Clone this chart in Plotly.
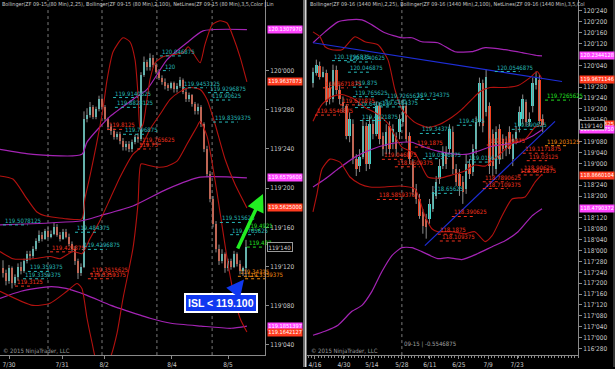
import plotly.graph_objects as go

# ---------------- LEFT PANEL: ZF 09-15 (80 Min) ----------------
L_OPEN = [119.370,119.353,119.330,119.369,119.321,119.343,119.375,119.362,119.394,119.416,
 119.407,119.432,119.457,119.476,119.464,119.489,119.470,119.480,119.502,119.476,
 119.464,119.486,119.470,119.448,119.432,119.394,119.353,119.375,119.845,119.860,
 119.883,119.851,119.876,119.908,119.883,119.845,119.819,119.806,119.787,119.797,
 119.775,119.756,119.765,119.749,119.772,119.787,119.781,119.987,120.029,120.010,
 120.041,120.019,119.997,119.978,119.965,119.952,119.946,119.959,119.940,119.952,
 119.971,119.933,119.908,119.921,119.892,119.870,119.883,119.829,119.749,119.670,
 119.591,119.511,119.432,119.394,119.416,119.369,119.394,119.375,119.416,119.384,
 119.362,119.369]
L_HIGH = [119.395,119.365,119.380,119.375,119.350,119.385,119.390,119.400,119.425,119.425,
 119.440,119.465,119.490,119.485,119.495,119.500,119.490,119.515,119.510,119.485,
 119.495,119.495,119.480,119.455,119.440,119.400,119.385,119.870,119.880,119.900,
 119.890,119.885,119.920,119.915,119.890,119.850,119.830,119.815,119.805,119.805,
 119.785,119.775,119.775,119.780,119.795,119.800,119.995,120.045,120.035,120.055,
 120.050,120.025,120.005,119.985,119.975,119.960,119.965,119.965,119.960,119.980,
 119.975,119.945,119.930,119.925,119.900,119.895,119.890,119.835,119.760,119.680,
 119.600,119.520,119.445,119.430,119.420,119.400,119.400,119.425,119.420,119.395,
 119.375,119.460]
L_LOW = [119.340,119.315,119.320,119.305,119.315,119.330,119.350,119.355,119.385,119.395,
 119.400,119.425,119.450,119.455,119.460,119.465,119.465,119.475,119.470,119.455,
 119.460,119.465,119.440,119.420,119.380,119.335,119.345,119.370,119.835,119.850,
 119.845,119.845,119.870,119.875,119.840,119.810,119.795,119.780,119.780,119.765,
 119.745,119.745,119.740,119.740,119.765,119.770,119.775,119.980,120.000,120.000,
 120.010,119.990,119.970,119.955,119.940,119.935,119.940,119.930,119.930,119.945,
 119.925,119.900,119.900,119.885,119.860,119.860,119.820,119.740,119.660,119.580,
 119.500,119.420,119.380,119.385,119.355,119.360,119.365,119.370,119.375,119.350,
 119.345,119.340]
L_CLOSE = [119.353,119.330,119.369,119.321,119.343,119.375,119.362,119.394,119.416,119.407,
 119.432,119.457,119.476,119.464,119.489,119.470,119.480,119.502,119.476,119.464,
 119.486,119.470,119.448,119.432,119.394,119.353,119.375,119.845,119.860,119.883,
 119.851,119.876,119.908,119.883,119.845,119.819,119.806,119.787,119.797,119.775,
 119.756,119.765,119.749,119.772,119.787,119.781,119.987,120.029,120.010,120.041,
 120.019,119.997,119.978,119.965,119.952,119.946,119.959,119.940,119.952,119.971,
 119.933,119.908,119.921,119.892,119.870,119.883,119.829,119.749,119.670,119.591,
 119.511,119.432,119.394,119.416,119.369,119.394,119.375,119.416,119.384,119.362,
 119.369,119.438]

L_BB25_UP_X = [-1,3.3,8,11.3,14,21.3,26.3,27.3,29,31.3,33.3,34.7,36.7,40,42.3,44,45,45.7,46.7,48,
               49,50.7,53.3,56.7,60,61.7,63.3,65.7,67.3,69.7,72.3,74.7,76.7,79,81.3]
L_BB25_UP = [119.664,119.654,119.591,119.549,119.537,119.527,119.527,119.591,119.664,119.772,
             119.876,119.971,120.060,120.105,120.092,120.035,119.924,119.813,119.829,119.908,
             119.971,120.025,120.044,120.051,120.057,120.076,120.057,120.025,120.083,120.146,
             120.159,120.152,120.108,120.044,119.964]
L_BB25_MID_X = [-1,3.3,10,15.7,19,23.3,26.3,29,32.3,35.7,39,43.3,46,49,52.3,55.7,59,62.3,65.7,68,70.7,74,77.3,81.3]
L_BB25_MID = [119.423,119.400,119.400,119.407,119.400,119.423,119.416,119.464,119.521,119.591,
              119.660,119.733,119.756,119.813,119.860,119.908,119.933,119.946,119.940,119.908,
              119.829,119.718,119.638,119.562]
L_BB25_LO_X = [-1,10,15.7,21.3,24.7,26.3,28,29.7,31.3,33.3,35.7,38,40,43.3,45,46,48,51.3,54.7,58,
               61.3,64.7,65.7,68,71.3,74.7,76.7,79,81.3]
L_BB25_LO = [119.296,119.251,119.258,119.296,119.321,119.305,119.210,119.131,119.067,119.051,
             119.083,119.162,119.273,119.432,119.575,119.702,119.699,119.692,119.695,119.711,
             119.765,119.822,119.838,119.791,119.613,119.400,119.296,119.210,119.166]
L_BB100_UP_X = [-1,10,26.3,28,35.7,43.3,48,54.7,61.3,66.7,81.3]
L_BB100_UP = [119.749,119.733,119.733,119.772,119.854,119.908,119.940,120.035,120.089,120.127,120.131]
L_BB100_MID_X = [-1,26.3,32.3,43.3,54.7,65.7,81.3]
L_BB100_MID = [119.508,119.521,119.537,119.568,119.622,119.660,119.658]
L_BB100_LO_X = [-1,6,16,21,28,36,46,49,56,66,76,81.3]
L_BB100_LO = [119.273,119.296,119.311,119.305,119.283,119.251,119.219,119.210,119.194,119.185,119.178,119.185]

L_X_TICKS = [2.0, 19.7, 33.7, 56.3, 75.0]
L_X_TEXT = ["7/30", "7/31", "8/2", "8/4", "8/5"]
L_SESSION_BREAKS = [15.0, 33.0, 51.3, 69.7]
L_Y_TICKS = [120.0, 119.875, 119.75, 119.625, 119.5, 119.375, 119.25, 119.125]
L_Y_TEXT = ["120'000", "119'280", "119'240", "119'200", "119'160", "119'120", "119'080", "119'040"]

L_LABELS_CYAN = [("120.046875", 52.3), ("120", 53.3), ("119.9140625", 36.7), ("119.8828125", 37.3),
                 ("119.796875", 40.0), ("119.9453125", 59.7), ("119.9296875", 68.3), ("119.90625", 69.0),
                 ("119.8359375", 70.0), ("119.484375", 24.0), ("119.4296875", 26.3), ("119.359375", 8.3),
                 ("119.3359375", 6.7), ("119.5078125", 0.0), ("119.515625", 72.3), ("119.4765625", 75.7)]
L_LABELS_RED = [("119.8125", 34.7), ("119.765625", 45.7), ("119.75", 44.7), ("119.421875", 15.7),
                ("119.3515625", 29.0), ("119.3359375", 28.3), ("119.3125", 4.0)]
L_LABELS_ORANGE = [("119.34375", 78.3), ("119.3359375", 80.7)]
L_LABELS_GREEN = [("119.437", 81.3), ("119.4921", 80.7)]
L_TAGS = [("120.1307970", "mag"), ("119.9637873", "red"), ("119.6579600", "mag"),
          ("119.5625000", "red"), ("119.1851397", "mag"), ("119.1642127", "red")]
L_LAST = (119.4375, "119'140")

# ---------------- RIGHT PANEL: ZF 09-16 (1440 Min) ----------------
R_OPEN = [119.928,120.042,120.122,119.997,120.042,119.871,119.734,120.076,119.848,119.700,
 119.654,119.312,119.449,119.049,118.969,119.072,119.426,118.992,119.449,119.334,
 119.654,119.312,119.197,119.426,119.243,119.312,119.357,119.471,119.654,119.312,
 118.992,118.707,118.592,118.444,118.364,118.364,118.478,118.627,118.821,118.969,
 119.129,119.163,119.357,118.935,118.878,118.786,118.707,118.992,118.901,119.163,
 119.471,119.928,119.586,119.654,119.334,118.935,119.391,119.277,119.163,119.357,
 119.049,119.277,119.426,119.506,119.700,119.471,119.654,119.905,119.962,119.506]
R_HIGH = [120.099,120.191,120.168,120.111,120.076,119.928,120.134,120.122,119.905,119.768,
 119.677,119.586,119.506,119.106,119.163,119.506,119.471,119.540,119.506,119.711,
 119.700,119.357,119.449,119.483,119.449,119.357,119.563,119.734,119.700,119.357,
 119.049,118.764,118.650,118.478,118.421,118.592,118.741,118.855,119.049,119.197,
 119.197,119.449,119.426,118.992,118.935,118.855,119.106,119.049,119.220,119.540,
 119.985,119.962,120.076,119.700,119.391,119.426,119.449,119.334,119.312,119.426,
 119.334,119.426,119.654,119.791,119.734,119.586,119.985,120.054,120.019,119.563]
R_LOW = [119.871,120.008,119.962,119.985,119.665,119.677,119.700,119.791,119.677,119.586,
 119.277,119.243,118.992,118.855,118.901,119.049,118.912,118.935,119.277,119.312,
 119.220,119.083,119.106,119.106,119.163,119.083,119.277,119.426,119.243,118.992,
 118.627,118.535,118.364,118.193,118.136,118.307,118.444,118.592,118.764,118.935,
 118.935,119.106,118.878,118.741,118.627,118.535,118.650,118.821,118.855,119.106,
 119.426,119.357,119.540,118.878,118.855,118.878,118.992,119.049,119.083,119.106,
 118.969,119.220,119.357,119.449,119.426,119.426,119.586,119.848,119.449,119.357]
R_CLOSE = [120.054,120.134,119.997,120.054,119.700,119.734,120.076,119.848,119.734,119.654,
 119.312,119.506,119.049,118.935,119.072,119.426,118.992,119.449,119.334,119.654,
 119.277,119.163,119.357,119.163,119.391,119.163,119.506,119.654,119.277,119.049,
 118.672,118.592,118.398,118.284,118.273,118.535,118.672,118.786,118.969,119.129,
 118.992,119.391,118.935,118.786,118.741,118.672,118.992,118.878,119.163,119.471,
 119.928,119.426,119.997,118.969,118.969,119.357,119.049,119.163,119.243,119.163,
 119.277,119.357,119.586,119.734,119.471,119.506,119.928,119.985,119.483,119.437]

R_BB100_UP_X = [0,3.6,7.5,10.5,14.7,17.7,21.6,26.7,29.7,32.7,37.5,42.6,47.7,51.7,57.7,62.8,67.6,68.8]
R_BB100_UP = [120.385,120.510,120.624,120.647,120.647,120.590,120.499,120.442,120.442,120.396,
              120.385,120.282,120.282,120.328,120.305,120.271,120.236,120.234]
R_BB100_MID_X = [0,3.6,7.5,12.6,17.7,22.5,26.7,29.7,33.6,37.5,42.6,46.5,49.5,53.8,57.7,61.6,65.8,68.8]
R_BB100_MID = [118.729,118.821,118.935,119.072,119.163,119.220,119.243,119.243,119.186,119.140,
               119.106,119.106,119.140,119.197,119.220,119.243,119.312,119.387]
R_BB100_LO_X = [0,3.6,7.5,11.7,14.7,17.7,20.7,23.7,26.7,29.7,32.7,37.5,40.5,44.7,49.5,53.8,57.7,61.6,65.8,68.8]
R_BB100_LO = [117.028,117.074,117.143,117.302,117.371,117.531,117.759,117.942,118.033,118.033,
              117.987,117.907,117.919,117.896,117.965,118.044,118.113,118.216,118.398,118.479]
R_BB25_UP_X = [0,2.1,3.6,5.7,8.7,12.6,15.6,19.5,22.5,24.6,26.7,30.6,34.5,38.1,41.7,44.7,47.7,50.2,53.2,57.7,61.6,65.2,67.3,68.8]
R_BB25_UP = [120.510,120.453,120.339,120.305,120.305,120.453,120.396,120.362,120.191,119.848,
             119.620,119.471,119.414,119.449,119.529,119.620,119.734,119.825,119.871,119.871,
             119.894,119.985,120.054,119.967]
R_BB25_MID_X = [0,2.7,5.7,8.7,12.6,15.6,19.5,22.5,26.7,30.6,34.5,38.1,41.7,45.6,48.6,51.7,53.8,56.8,59.8,63.7,66.7,68.8]
R_BB25_MID = [119.483,119.677,119.768,119.791,119.734,119.643,119.563,119.460,119.186,119.117,
              118.844,118.832,118.866,118.912,118.981,118.969,119.026,119.129,119.232,119.277,
              119.414,119.437]
R_BB25_LO_X = [0,1.2,2.7,5.1,8.1,11.1,14.1,17.1,21.6,26.1,30.6,33.6,35.7,37.5,41.7,45.6,48.6,51.7,53.8,56.8,59.8,63.7,66.7,68.8]
R_BB25_LO = [118.444,118.650,118.935,119.049,119.015,118.844,118.764,118.729,118.729,118.741,
             118.707,118.398,118.250,118.216,118.216,118.193,118.216,118.102,118.170,118.398,
             118.592,118.615,118.786,118.878]
R_TREND_X = [[0, 74.8], [33.6, 72.7]]
R_TREND_Y = [[120.385, 119.940], [118.056, 119.483]]

R_X_TICKS = [0.6, 9.3, 17.7, 26.7, 35.1, 43.8, 52.6, 61.3]
R_X_TEXT = ["4/16", "4/30", "5/14", "5/28", "6/11", "6/25", "7/9", "7/23"]
R_SESSION_BREAKS = [26.7]
R_Y_TICKS = [120.75, 120.625, 120.5, 120.375, 120.125, 119.875, 119.75, 119.625, 119.5, 119.25,
             119.125, 119.0, 118.75, 118.625, 118.375, 118.25, 118.125, 118.0, 117.875, 117.75,
             117.625, 117.5, 117.375, 117.25, 117.125, 117.0, 116.875]
R_Y_TEXT = ["120'240", "120'200", "120'160", "120'120", "120'040", "119'280", "119'240", "119'200",
            "119'160", "119'080", "119'040", "119'000", "118'240", "118'200", "118'120", "118'080",
            "118'040", "118'000", "117'280", "117'240", "117'200", "117'160", "117'120", "117'080",
            "117'040", "117'000", "116'280"]

R_LABELS_CYAN = [("120.1796875", 5.7), ("120.1640625", 10.2), ("120.046875", 10.5), ("119.875", 12.0),
                 ("119.765625", 12.0), ("119.640625", 12.6), ("119.7265625", 21.6), ("119.734375", 30.6),
                 ("119.6484375", 20.1), ("119.4921875", 14.1), ("119.34375", 32.1), ("119.4375", 43.2),
                 ("119.0546875", 33.0), ("119.015625", 46.2), ("120.0546875", 54.6), ("119.390625", 59.7),
                 ("118.65625", 35.7)]
R_LABELS_RED = [("119.8671875", 3.0), ("119.5546875", 0.6), ("119.671875", 8.1), ("119.1875", 30.6),
                ("119.046875", 20.7), ("118.9609375", 24.6), ("118.5859375", 19.2), ("118.390625", 41.7),
                ("118.1875", 37.5), ("118.109375", 38.1), ("118.7890625", 51.0), ("118.7109375", 51.0),
                ("119.1171875", 63.0), ("119.03125", 64.2), ("118.90625", 62.7), ("118.8671875", 61.5),
                ("119.2109375", 52.2)]
R_LABELS_ORANGE = [("119.203125", 69.7)]
R_LABELS_GREEN = [("119.7265625", 69.7)]
R_TAGS = [("120.2344128", "mag"), ("119.9671146", "red"), ("119.4465625", "red"),
          ("119.3868750", "mag"), ("118.8660104", "red"), ("118.4790372", "mag")]
R_LAST = (119.4375, "119'140")

# ---------------- styling ----------------
W, H = 615, 369
UP_C, DN_C, WICK_C = "#3fd6cc", "#f2401f", "#8c8c8c"
BB25_C, BB100_C = "#b3120f", "#a424b4"
CYAN_T, RED_T, ORANGE_T, GREEN_T = "#27b7b7", "#f0321e", "#f08a10", "#22e022"
TAG_C = {"mag": "#ff44ff", "red": "#ff3b1f"}
AX_C, TXT_C = "#8a8a8a", "#c8c8c8"
NARROW = "Liberation Sans Narrow, Arial Narrow, DejaVu Sans Condensed, Liberation Sans, sans-serif"
Y_DOM = [12 / H, 1.0]
X1_DOM = [0, 265 / W]
X2_DOM = [307 / W, 578 / W]

fig = go.Figure()


def add_panel(xa, ya, o, h, l, c, width, lines, trends=()):
    idx = list(range(len(c)))
    wx, wy = [], []
    for i in idx:
        wx += [i, i, None]
        wy += [l[i], h[i], None]
    fig.add_trace(go.Scatter(x=wx, y=wy, mode="lines", line=dict(color=WICK_C, width=1),
                             xaxis=xa, yaxis=ya, hoverinfo="skip"))
    colors = [UP_C if c[i] >= o[i] else DN_C for i in idx]
    fig.add_trace(go.Bar(x=idx, base=o, y=[c[i] - o[i] for i in idx], width=width,
                         marker=dict(color=colors, line=dict(width=0)), xaxis=xa, yaxis=ya))
    for lx, ly, col, w in lines:
        fig.add_trace(go.Scatter(x=lx, y=ly, mode="lines", line=dict(color=col, width=w, shape="spline", smoothing=0.6),
                                 xaxis=xa, yaxis=ya, hoverinfo="skip"))
    for tx, ty in trends:
        fig.add_trace(go.Scatter(x=tx, y=ty, mode="lines", line=dict(color="#1e2ed8", width=1.2),
                                 xaxis=xa, yaxis=ya, hoverinfo="skip"))


add_panel("x", "y", L_OPEN, L_HIGH, L_LOW, L_CLOSE, 0.62,
          [(L_BB100_UP_X, L_BB100_UP, BB100_C, 1.2), (L_BB100_MID_X, L_BB100_MID, BB100_C, 1.2),
           (L_BB100_LO_X, L_BB100_LO, BB100_C, 1.2),
           (L_BB25_UP_X, L_BB25_UP, BB25_C, 1.1), (L_BB25_MID_X, L_BB25_MID, BB25_C, 1.1),
           (L_BB25_LO_X, L_BB25_LO, BB25_C, 1.1)])
add_panel("x2", "y2", R_OPEN, R_HIGH, R_LOW, R_CLOSE, 0.75,
          [(R_BB100_UP_X, R_BB100_UP, BB100_C, 1.2), (R_BB100_MID_X, R_BB100_MID, BB100_C, 1.2),
           (R_BB100_LO_X, R_BB100_LO, BB100_C, 1.2),
           (R_BB25_UP_X, R_BB25_UP, BB25_C, 1.1), (R_BB25_MID_X, R_BB25_MID, BB25_C, 1.1),
           (R_BB25_LO_X, R_BB25_LO, BB25_C, 1.1)],
          trends=list(zip(R_TREND_X, R_TREND_Y)))

annotations = []
shapes = []


def add_labels(labels, color, xa, ya, ulen):
    ux, uy = [], []
    for txt, x in labels:
        v = float(txt)
        annotations.append(dict(x=x, y=v, xref=xa, yref=ya, text=txt, showarrow=False,
                                xanchor="left", yanchor="bottom", yshift=-1,
                                font=dict(family=NARROW, size=6, color=color)))
        ux += [x, x + ulen * len(txt), None]
        uy += [v, v, None]
    fig.add_trace(go.Scatter(x=ux, y=uy, mode="lines", line=dict(color=color, width=1, dash="dot"),
                             xaxis=xa, yaxis=ya, hoverinfo="skip"))


for labs, col in [(L_LABELS_CYAN, CYAN_T), (L_LABELS_RED, RED_T), (L_LABELS_ORANGE, ORANGE_T), (L_LABELS_GREEN, GREEN_T)]:
    add_labels(labs, col, "x", "y", 0.75)
for labs, col in [(R_LABELS_CYAN, CYAN_T), (R_LABELS_RED, RED_T), (R_LABELS_ORANGE, ORANGE_T), (R_LABELS_GREEN, GREEN_T)]:
    add_labels(labs, col, "x2", "y2", 0.68)


def add_tags(tags, last, ya, xpaper):
    for txt, kind in tags:
        annotations.append(dict(x=xpaper, y=float(txt), xref="paper", yref=ya, text=txt, showarrow=False,
                                xanchor="left", yanchor="middle", bgcolor=TAG_C[kind], borderpad=0.3,
                                font=dict(family=NARROW, size=5.6, color="#ffffff")))
    annotations.append(dict(x=xpaper, y=last[0], xref="paper", yref=ya, text=last[1], showarrow=False,
                            xanchor="left", yanchor="middle", bgcolor="#000000", bordercolor="#9a9a9a",
                            borderwidth=1, borderpad=0.5, font=dict(family=NARROW, size=6, color="#d0d0d0")))


add_tags(L_TAGS, L_LAST, "y", 267 / W)
add_tags(R_TAGS, R_LAST, "y2", 579 / W)

for xb in L_SESSION_BREAKS:
    shapes.append(dict(type="line", xref="x", yref="paper", x0=xb, x1=xb, y0=Y_DOM[0], y1=1,
                       line=dict(color="#7a7a7a", width=1, dash="dot"), layer="below"))
for xb in R_SESSION_BREAKS:
    shapes.append(dict(type="line", xref="x2", yref="paper", x0=xb, x1=xb, y0=Y_DOM[0], y1=1,
                       line=dict(color="#7a7a7a", width=1, dash="dot"), layer="below"))

# panel separator
shapes.append(dict(type="line", xref="paper", yref="paper", x0=303.5 / W, x1=303.5 / W, y0=0, y1=1,
                   line=dict(color="#6a6a6a", width=1)))
shapes.append(dict(type="rect", xref="paper", yref="paper", x0=304.5 / W, x1=306.5 / W, y0=0, y1=1,
                   line=dict(width=0), fillcolor="#d8d8d8"))
shapes.append(dict(type="line", xref="paper", yref="paper", x0=614 / W, x1=614 / W, y0=0, y1=1,
                   line=dict(color="#6a6a6a", width=1)))

# headers / footers
HDR_L = "Bollinger(ZF 09-15 (80 Min),2,25), Bollinger(ZF 09-15 (80 Min),2,100), NetLines(ZF 09-15 (80 Min),3,5,Color [Lin"
HDR_R = "Bollinger(ZF 09-16 (1440 Min),2,25), Bollinger(ZF 09-16 (1440 Min),2,100), NetLines(ZF 09-16 (1440 Min),3,5,Col"
for txt, xp in [(HDR_L, 0 / W), (HDR_R, 308 / W)]:
    annotations.append(dict(x=xp, y=1 - 5 / H, xref="paper", yref="paper", text=txt, showarrow=False,
                            xanchor="left", yanchor="middle", font=dict(family=NARROW, size=5.4, color=TXT_C)))
for xp in [1 / W, 309 / W]:
    annotations.append(dict(x=xp, y=1 - 353 / H, xref="paper", yref="paper", text="© 2015 NinjaTrader, LLC",
                            showarrow=False, xanchor="left", yanchor="middle",
                            font=dict(family=NARROW, size=6, color="#9a9a9a")))
annotations.append(dict(x=R_SESSION_BREAKS[0], y=1 - 346 / H, xref="x2", yref="paper", text="09-15 | -0.5546875",
                        showarrow=False, xanchor="left", yanchor="middle",
                        font=dict(family=NARROW, size=6, color="#a0a0a0")))

# callout and arrows
annotations.append(dict(x=221 / W, y=1 - 305 / H, xref="paper", yref="paper", text="<b>ISL &lt; 119.100</b>",
                        showarrow=False, xanchor="center", yanchor="middle", bgcolor="#1038f0",
                        bordercolor="#ffffff", borderwidth=2, borderpad=2,
                        font=dict(family="Liberation Sans, Arial, sans-serif", size=10.5, color="#ffffff")))
annotations.append(dict(x=244 / W, y=1 - 281 / H, xref="paper", yref="paper", ax=-12, ay=15, text="",
                        showarrow=True, arrowhead=2, arrowsize=1, arrowwidth=3.5, arrowcolor="#1038f0"))
annotations.append(dict(x=263 / W, y=1 - 195 / H, xref="paper", yref="paper", ax=-26, ay=56, text="",
                        showarrow=True, arrowhead=2, arrowsize=1, arrowwidth=3.5, arrowcolor="#22ee22"))

axis_common = dict(showgrid=False, zeroline=False, showline=True, linecolor=AX_C, linewidth=1,
                   ticks="outside", ticklen=3, tickcolor=AX_C, ticklabeloverflow="allow",
                   tickfont=dict(family=NARROW, size=6.5, color=TXT_C))

fig.update_layout(
    width=W, height=H, margin=dict(l=0, r=0, t=0, b=0),
    paper_bgcolor="#000000", plot_bgcolor="#000000", showlegend=False, bargap=0,
    xaxis=dict(domain=X1_DOM, range=[-1, 87.33], anchor="y", tickmode="array",
               tickvals=L_X_TICKS, ticktext=L_X_TEXT, **axis_common),
    yaxis=dict(domain=Y_DOM, range=[119.0925, 120.2253], anchor="x", side="right", tickmode="array",
               tickvals=L_Y_TICKS, ticktext=L_Y_TEXT, **axis_common),
    xaxis2=dict(domain=X2_DOM, range=[-1.8, 79.6], anchor="y2", tickmode="array",
                tickvals=R_X_TICKS, ticktext=R_X_TEXT,
                minor=dict(ticks="outside", ticklen=2, tickcolor=AX_C, dtick=1, tick0=0.6), **axis_common),
    yaxis2=dict(domain=Y_DOM, range=[116.800, 120.8756], anchor="x2", side="right", tickmode="array",
                tickvals=R_Y_TICKS, ticktext=R_Y_TEXT, **axis_common),
    annotations=annotations, shapes=shapes,
)

fig.write_html("out.html")
